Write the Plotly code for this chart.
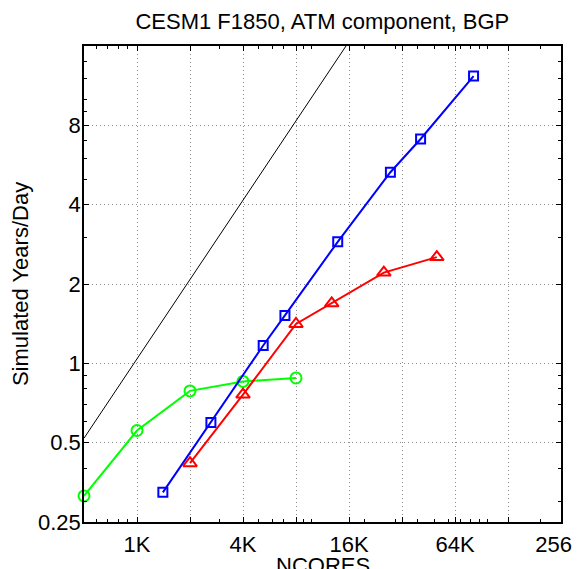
import math
import plotly.graph_objects as go

# Data
green_x = [512, 1024, 2048, 4096, 8192]
green_y = [0.314, 0.556, 0.786, 0.854, 0.88]

blue_x = [1436, 2692, 5334, 7088, 14137, 28154, 41788, 83542]
blue_y = [0.324, 0.596, 1.169, 1.52, 2.89, 5.31, 7.10, 12.3]

red_x = [2048, 4096, 8192, 13070, 25840, 51660]
red_y = [0.418, 0.761, 1.41, 1.69, 2.21, 2.53]

ideal_x = [512, 16384]
ideal_y = [0.52, 16.64]

x_tickvals = [512, 1024, 2048, 4096, 8192, 16384, 32768, 65536, 131072, 262144]
x_ticktext = ["", "1K", "", "4K", "", "16K", "", "64K", "", "256K"]
x_minor = [600, 700, 800, 900, 3000, 5000, 6000, 7000, 9000, 10000,
           20000, 30000, 40000, 50000, 60000, 70000, 80000, 90000, 100000, 200000]

y_tickvals = [0.25, 0.5, 1, 2, 4, 8]
y_ticktext = ["0.25", "0.5", "1", "2", "4", "8"]
y_minor = [0.3, 0.4, 0.6, 0.7, 0.8, 0.9, 3, 5, 6, 7, 9, 10, 12, 14]

FONT = "Liberation Sans, Arial, Helvetica, sans-serif"

fig = go.Figure()
fig.add_trace(go.Scatter(x=ideal_x, y=ideal_y, mode="lines",
                         line=dict(color="black", width=1), showlegend=False))
fig.add_trace(go.Scatter(x=green_x, y=green_y, mode="lines+markers",
                         line=dict(color="#00ff00", width=2),
                         marker=dict(symbol="circle-open", size=11, color="#00ff00",
                                     line=dict(width=2, color="#00ff00")),
                         cliponaxis=False, showlegend=False))
fig.add_trace(go.Scatter(x=blue_x, y=blue_y, mode="lines+markers",
                         line=dict(color="#0000ff", width=2),
                         marker=dict(symbol="square-open", size=9, color="#0000ff",
                                     line=dict(width=2, color="#0000ff")),
                         cliponaxis=False, showlegend=False))
fig.add_trace(go.Scatter(x=red_x, y=red_y, mode="lines+markers",
                         line=dict(color="#ff0000", width=2),
                         marker=dict(symbol="triangle-up-open", size=12, color="#ff0000",
                                     line=dict(width=2, color="#ff0000")),
                         cliponaxis=False, showlegend=False))

axis_common = dict(
    showline=True, linecolor="black", linewidth=1.5, mirror="ticks",
    ticks="inside", ticklen=5, tickcolor="black", tickwidth=1,
    showgrid=True, gridcolor="#8c8c8c", griddash="1px,3px", gridwidth=1,
    zeroline=False, automargin=False,
    tickfont=dict(family=FONT, size=22, color="black"),
)

fig.update_xaxes(type="log",
                 range=[math.log10(512) - 1e-6, math.log10(262144) + 1e-6],
                 tickmode="array", tickvals=x_tickvals, ticktext=x_ticktext,
                 ticklabelstandoff=2,
                 minor=dict(tickmode="array", tickvals=x_minor, ticks="inside",
                            ticklen=3, tickcolor="black", showgrid=False),
                 **axis_common)
fig.update_yaxes(type="log",
                 range=[math.log10(0.25) - 1e-6, math.log10(16) + 1e-6],
                 tickmode="array", tickvals=y_tickvals, ticktext=y_ticktext,
                 ticklabelstandoff=-3,
                 minor=dict(tickmode="array", tickvals=y_minor, ticks="inside",
                            ticklen=3, tickcolor="black", showgrid=False),
                 **axis_common)

# page body has an 8px margin; plot area on screen: x 84..561, y 46..522
fig.update_layout(
    width=581, height=569,
    margin=dict(l=76, r=28, t=38, b=55),
    paper_bgcolor="white", plot_bgcolor="white",
    font=dict(family=FONT, color="black"),
    title=dict(text="CESM1 F1850, ATM component, BGP", x=0.541, xanchor="center",
               y=0.976, yanchor="middle", font=dict(family=FONT, size=22, color="black")),
    annotations=[
        dict(text="NCORES", xref="paper", yref="paper", x=0.5, y=-0.091,
             xanchor="center", yanchor="middle", showarrow=False,
             font=dict(family=FONT, size=22, color="black")),
        dict(text="Simulated Years/Day", xref="paper", yref="paper", x=-0.134, y=0.5,
             xanchor="center", yanchor="middle", textangle=-90, showarrow=False,
             font=dict(family=FONT, size=22, color="black")),
    ],
)

fig.write_html("out.html")
